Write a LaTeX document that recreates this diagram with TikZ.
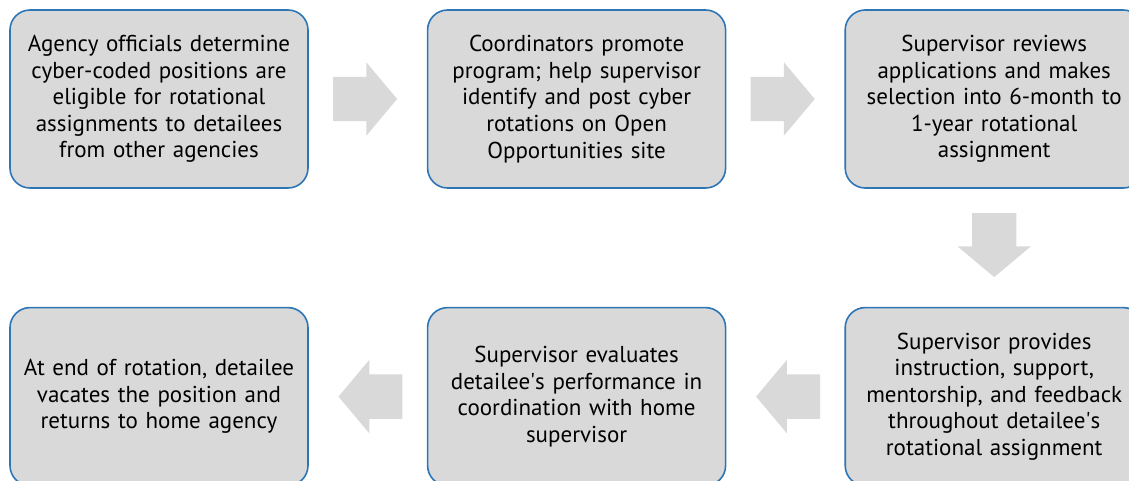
\documentclass[tikz,border=0pt]{standalone}
\usepackage{fontspec}
\setmainfont{PT Sans}
\usetikzlibrary{positioning,shapes.arrows}
\definecolor{boxfill}{HTML}{D9D9D9}
\definecolor{boxline}{HTML}{2E75B6}
\begin{document}
\begin{tikzpicture}[x=1pt,y=-1pt]
    \tikzstyle{stepbox}=[rectangle, rounded corners=20pt, fill=boxfill, draw=boxline, line width=1.6pt,
                         minimum width=298pt, minimum height=178pt, text width=285pt, align=center,
                         font=\fontsize{23pt}{26.6pt}\selectfont, node distance=118pt]
    \tikzstyle{flow}=[single arrow, fill=boxfill, draw=none, inner xsep=0pt, inner ysep=22pt,
                      single arrow head extend=14.5pt, single arrow tip angle=100, minimum height=64pt,
                      xshift=-12pt]
    \useasboundingbox (0,0) rectangle (1129,480);

      \node[stepbox] (s1) at (159,99) {Agency officials determine\\cyber-coded positions are\\eligible for rotational\\assignments to detailees\\from other agencies};
      \node[stepbox] (s2) [right=of s1] {Coordinators promote\\program; help supervisor\\identify and post cyber\\rotations on Open\\Opportunities site};
      \node[stepbox] (s3) [right=of s2] {Supervisor reviews\\applications and makes\\selection into 6-month to\\1-year rotational\\assignment};
      \node[stepbox] (s4) [below=of s3] {Supervisor provides\\instruction, support,\\mentorship, and feedback\\throughout detailee\textquotesingle s\\rotational assignment};
      \node[stepbox] (s5) [left=of s4] {Supervisor evaluates\\detailee\textquotesingle s performance in\\coordination with home\\supervisor};
      \node[stepbox] (s6) [left=of s5] {At end of rotation, detailee\\vacates the position and\\returns to home agency};
      \path
        (s1) -- node[flow] (a12) {} (s2)
        (s2) -- node[flow] (a23) {} (s3)
        (s3) -- node[rotate=-90, flow] (a34) {} (s4)
        (s4) -- node[rotate=180, flow] (a45) {} (s5)
        (s5) -- node[rotate=180, flow] (a56) {} (s6);
    \end{tikzpicture}
\end{document}
